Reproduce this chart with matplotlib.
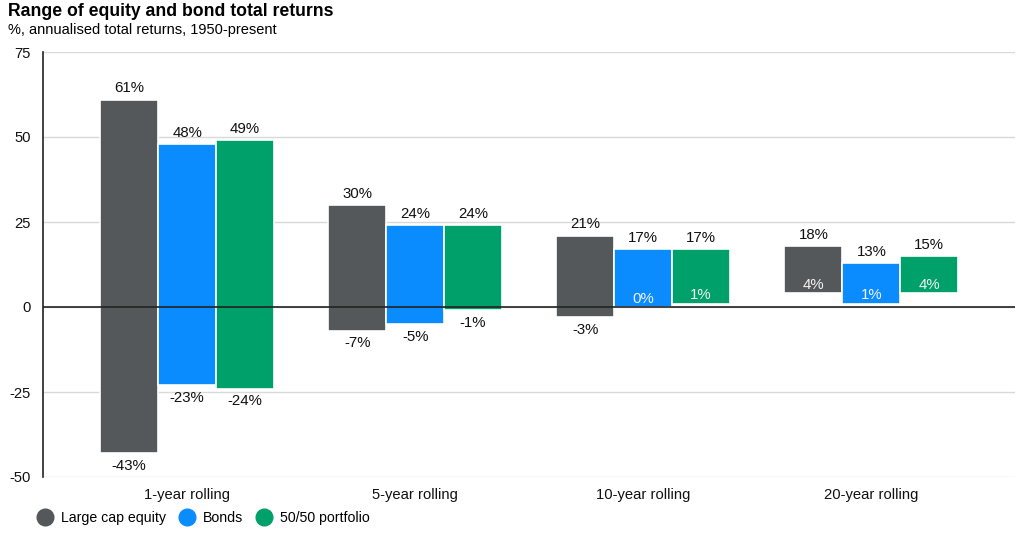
import matplotlib.pyplot as plt
from matplotlib.lines import Line2D

plt.rcParams['font.family'] = ['Liberation Sans', 'DejaVu Sans']

periods = ["1-year rolling", "5-year rolling", "10-year rolling", "20-year rolling"]
series = ["Large cap equity", "Bonds", "50/50 portfolio"]
colors = ["#55585b", "#0a8cff", "#00a06a"]

# min / max annualised returns, %
lows = {
    "Large cap equity": [-43, -7, -3, 4],
    "Bonds": [-23, -5, 0, 1],
    "50/50 portfolio": [-24, -1, 1, 4],
}
highs = {
    "Large cap equity": [61, 30, 21, 18],
    "Bonds": [48, 24, 17, 13],
    "50/50 portfolio": [49, 24, 17, 15],
}

fig = plt.figure(figsize=(10.24, 5.42), dpi=100)
ax = fig.add_axes([43 / 1024, 1 - 477 / 542, (1015 - 43) / 1024, (477 - 52) / 542])

w = 0.254
for i, s in enumerate(series):
    xs = [k + (i - 1) * w for k in range(len(periods))]
    lo = lows[s]
    hi = highs[s]
    ax.bar(xs, [h - l for h, l in zip(hi, lo)], bottom=lo, width=w,
           color=colors[i], edgecolor="white", linewidth=1.2, zorder=2)
    for x, l, h in zip(xs, lo, hi):
        ax.annotate(f"{h}%", (x, h), xytext=(0, 3), textcoords="offset points",
                    ha="center", va="bottom", fontsize=10.8, color="#111111")
        if l < 0:
            ax.annotate(f"{l}%", (x, l), xytext=(0, -4), textcoords="offset points",
                        ha="center", va="top", fontsize=10.8, color="#111111")
        else:
            ax.annotate(f"{l}%", (x, l), xytext=(0, 1), textcoords="offset points",
                        ha="center", va="bottom", fontsize=10.8, color="#f2f2f2")

ax.set_xlim(-0.632, 3.63)
ax.set_ylim(-50, 75)
ax.set_yticks([-50, -25, 0, 25, 50, 75])
ax.set_yticklabels(["-50", "-25", "0", "25", "50", "75"])
ax.set_xticks(range(len(periods)))
ax.set_xticklabels(periods)
ax.tick_params(axis="both", length=0, labelsize=10.6, colors="#111111")
ax.tick_params(axis="y", pad=9)
ax.tick_params(axis="x", pad=8)
ax.grid(axis="y", color="#d9d9d9", linewidth=1, zorder=0)
ax.axhline(0, color="#222222", linewidth=1.2, zorder=3)
for sp in ["top", "right", "bottom"]:
    ax.spines[sp].set_visible(False)
ax.spines["left"].set_color("#222222")
ax.spines["left"].set_linewidth(1.2)

fig.text(8 / 1024, 1 - 12 / 542, "Range of equity and bond total returns",
         fontsize=12.7, fontweight="bold", va="center", ha="left")
fig.text(8 / 1024, 1 - 30 / 542, "%, annualised total returns, 1950-present",
         fontsize=10.5, va="center", ha="left")

handles = [Line2D([], [], marker="o", linestyle="", markersize=12,
                  markerfacecolor=c, markeredgecolor=c) for c in colors]
fig.legend(handles, series, loc="center left", bbox_to_anchor=(25 / 1024, 1 - 518 / 542),
           ncol=3, frameon=False, fontsize=10.2, handletextpad=0.15, columnspacing=0.45,
           borderaxespad=0)

fig.savefig("out.png", dpi=100)
